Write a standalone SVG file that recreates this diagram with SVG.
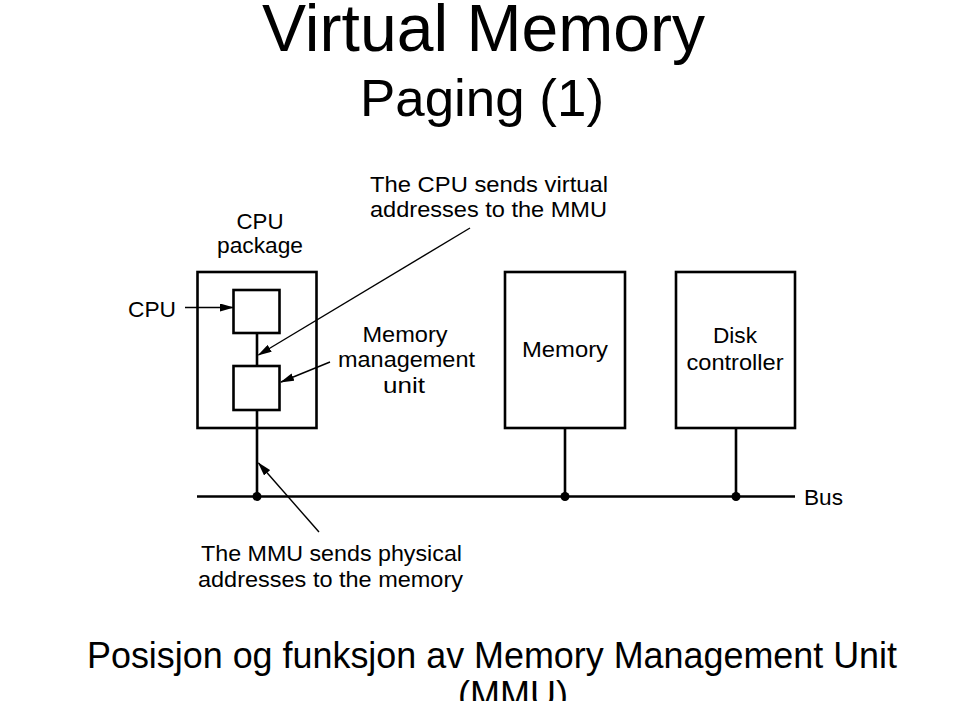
<svg xmlns="http://www.w3.org/2000/svg" width="953" height="701" viewBox="0 0 953 701">
<defs>
<style>
.t{font-family:"Liberation Sans",Arial,Helvetica,sans-serif;fill:#000}
.d{font-size:22px}
.box{fill:#fff;stroke:#000;stroke-width:2.6}
.wire{fill:none;stroke:#000;stroke-width:2.6}
.arr{fill:none;stroke:#000;stroke-width:1.4;marker-end:url(#ah)}
</style>
<marker id="ah" markerUnits="userSpaceOnUse" markerWidth="14" markerHeight="8" refX="13" refY="4" orient="auto" viewBox="0 0 14 8">
<path d="M0,0 L14,4 L0,8 Z" fill="#000"/>
</marker>
</defs>
<rect width="953" height="701" fill="#fff"/>

<g id="title">
<text class="t" x="483.5" y="51" font-size="66" text-anchor="middle" textLength="443" lengthAdjust="spacingAndGlyphs">Virtual Memory</text>
<text class="t" x="482" y="116" font-size="52" text-anchor="middle" textLength="244" lengthAdjust="spacingAndGlyphs">Paging (1)</text>
</g>

<g id="cpu-package">
<rect class="box" x="197.5" y="272" width="119" height="156"/>
<text class="t d" x="260" y="229" text-anchor="middle" textLength="47" lengthAdjust="spacingAndGlyphs">CPU</text>
<text class="t d" x="260" y="253" text-anchor="middle" textLength="86" lengthAdjust="spacingAndGlyphs">package</text>
</g>

<g id="cpu">
<rect class="box" x="233.5" y="290" width="46" height="43"/>
<text class="t d" x="128" y="317" textLength="48" lengthAdjust="spacingAndGlyphs">CPU</text>
</g>

<g id="mmu">
<rect class="box" x="233.5" y="366" width="46" height="44"/>
<text class="t d" x="405" y="342" text-anchor="middle" textLength="85" lengthAdjust="spacingAndGlyphs">Memory</text>
<text class="t d" x="406.5" y="367" text-anchor="middle" textLength="137" lengthAdjust="spacingAndGlyphs">management</text>
<text class="t d" x="404" y="393" text-anchor="middle" textLength="42" lengthAdjust="spacingAndGlyphs">unit</text>
</g>

<g id="memory">
<rect class="box" x="505" y="272" width="120" height="156"/>
<text class="t d" x="565" y="357" text-anchor="middle" textLength="86" lengthAdjust="spacingAndGlyphs">Memory</text>
</g>

<g id="disk-controller">
<rect class="box" x="676" y="272" width="119" height="156"/>
<text class="t d" x="735" y="343" text-anchor="middle" textLength="44" lengthAdjust="spacingAndGlyphs">Disk</text>
<text class="t d" x="735" y="370" text-anchor="middle" textLength="97" lengthAdjust="spacingAndGlyphs">controller</text>
</g>

<g id="connectors">
<line class="wire" x1="257" y1="333" x2="257" y2="366"/>
<line class="wire" x1="257" y1="410" x2="257" y2="496.5"/>
<line class="wire" x1="565" y1="428" x2="565" y2="496.5"/>
<line class="wire" x1="736" y1="428" x2="736" y2="496.5"/>
<line class="wire" x1="197" y1="496.5" x2="795" y2="496.5"/>
<circle cx="257" cy="496.5" r="4.5" fill="#000"/>
<circle cx="565" cy="496.5" r="4.5" fill="#000"/>
<circle cx="736" cy="496.5" r="4.5" fill="#000"/>
<line class="arr" x1="185" y1="307.5" x2="233" y2="307.5"/>
<line class="arr" x1="470" y1="228" x2="258.5" y2="355"/>
<line class="arr" x1="330" y1="362" x2="281" y2="382"/>
<line class="arr" x1="319" y1="532" x2="258.5" y2="463"/>
</g>

<g id="bus-label">
<text class="t d" x="804" y="505" textLength="39" lengthAdjust="spacingAndGlyphs">Bus</text>
</g>

<g id="note-virtual">
<text class="t d" x="370" y="192" textLength="238" lengthAdjust="spacingAndGlyphs">The CPU sends virtual</text>
<text class="t d" x="370" y="217" textLength="237" lengthAdjust="spacingAndGlyphs">addresses to the MMU</text>
</g>

<g id="note-physical">
<text class="t d" x="201" y="561" textLength="261" lengthAdjust="spacingAndGlyphs">The MMU sends physical</text>
<text class="t d" x="198" y="587" textLength="265" lengthAdjust="spacingAndGlyphs">addresses to the memory</text>
</g>

<g id="caption">
<text class="t" x="492" y="668" font-size="36" text-anchor="middle" textLength="810" lengthAdjust="spacingAndGlyphs">Posisjon og funksjon av Memory Management Unit</text>
<text class="t" x="513" y="707" font-size="36" text-anchor="middle">(MMU)</text>
</g>
</svg>
